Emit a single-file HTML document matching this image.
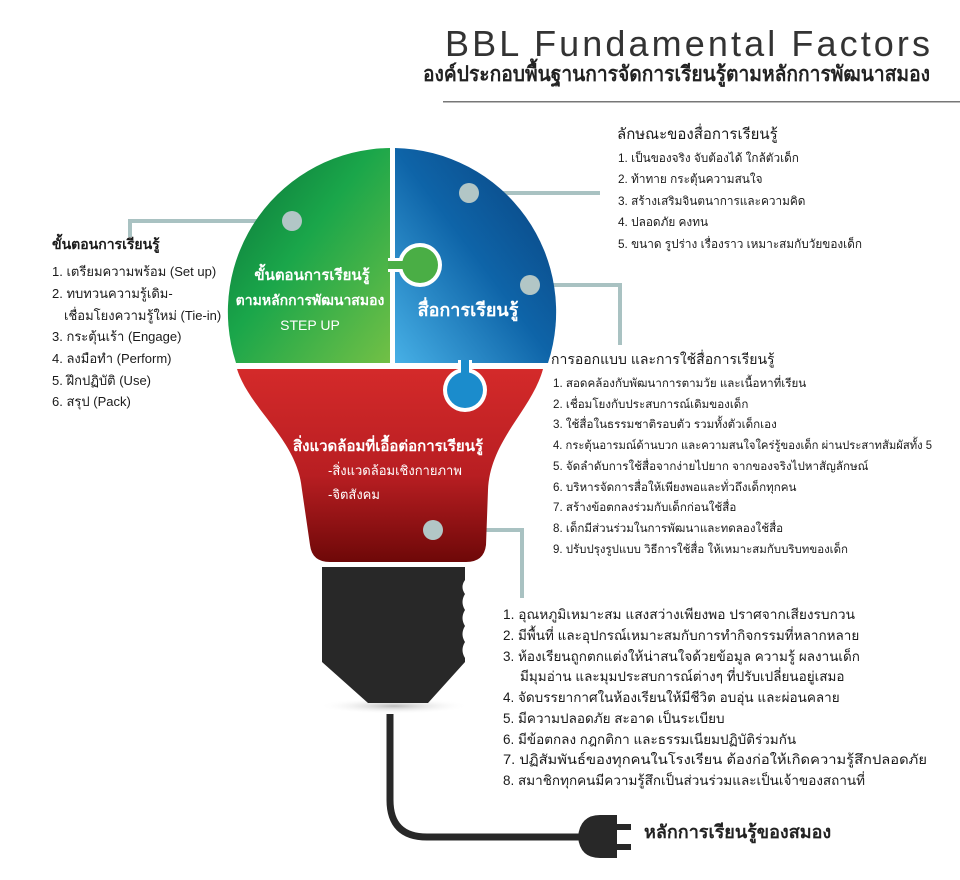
<!DOCTYPE html>
<html><head><meta charset="utf-8"><style>
html,body{margin:0;padding:0;background:#fff}
svg{display:block}
text{font-family:"Liberation Sans","Noto Sans CJK SC",sans-serif;fill:#1a1a1a}
.it{font-size:12.5px}
.hd{font-size:15px}
.w{fill:#fff;font-weight:bold}
.tr{font-size:11.8px}
.mr{font-size:11.6px}
.bl{font-size:13.5px}
.lf{font-size:13px}
</style></head><body>
<svg width="960" height="880" viewBox="0 0 960 880">
<defs>
<linearGradient id="gG" x1="0" y1="0" x2="1" y2="1"><stop offset="0" stop-color="#0a7038"/><stop offset="0.45" stop-color="#1aa64a"/><stop offset="1" stop-color="#72c046"/></linearGradient>
<linearGradient id="gB" x1="1" y1="0" x2="0" y2="1"><stop offset="0" stop-color="#0a3f7a"/><stop offset="0.5" stop-color="#0e64a8"/><stop offset="1" stop-color="#47b0e6"/></linearGradient>
<linearGradient id="gR" x1="0" y1="0" x2="0" y2="1"><stop offset="0" stop-color="#d42a2a"/><stop offset="0.55" stop-color="#b81e22"/><stop offset="1" stop-color="#6e0808"/></linearGradient>
<radialGradient id="sh" cx="0.5" cy="0.5" r="0.5"><stop offset="0" stop-color="#bbb"/><stop offset="1" stop-color="#fff" stop-opacity="0"/></radialGradient>
</defs>

<!-- title -->
<text x="445" y="56" textLength="485" lengthAdjust="spacing" style="font-size:36px;fill:#333">BBL Fundamental Factors</text>
<text x="423" y="81" textLength="507" lengthAdjust="spacingAndGlyphs" style="font-size:21px;font-weight:bold;fill:#222">องค์ประกอบพื้นฐานการจัดการเรียนรู้ตามหลักการพัฒนาสมอง</text>
<rect x="443" y="101" width="517" height="1.5" fill="#777"/>

<!-- connectors -->
<g stroke="#a9c2c2" stroke-width="4" fill="none">
<polyline points="292,221 130,221 130,237"/>
<polyline points="469,193 600,193"/>
<polyline points="530,285 620,285 620,345"/>
<polyline points="433,530 522,530 522,598"/>
</g>

<!-- bulb -->
<path d="M390,363 L236,363 A164,164 0 0 1 390,148 Z" fill="url(#gG)"/>
<path d="M395,148 A164,164 0 0 1 548,363 L395,363 Z" fill="url(#gB)"/>
<path d="M237,369 L543,369 C532,410 490,440 488,490 L486,545 Q484,562 466,562 L330,562 Q312,562 310,545 L302,490 C298,440 250,410 237,369 Z" fill="url(#gR)"/>
<!-- knobs -->
<rect x="388" y="258" width="16" height="14" fill="#fff"/>
<circle cx="420" cy="265" r="22" fill="#fff"/>
<rect x="388" y="261" width="18" height="8" fill="#4aae45"/>
<circle cx="420" cy="265" r="18" fill="#4aae45"/>
<rect x="458" y="360" width="14" height="16" fill="#fff"/>
<circle cx="465" cy="390" r="22" fill="#fff"/>
<rect x="461" y="360" width="8" height="18" fill="#1b8ccc"/>
<circle cx="465" cy="390" r="18" fill="#1b8ccc"/>
<!-- dots -->
<g fill="#b2c6c6">
<circle cx="292" cy="221" r="10"/><circle cx="469" cy="193" r="10"/><circle cx="530" cy="285" r="10"/><circle cx="433" cy="530" r="10"/>
</g>
<text class="w" x="312" y="280" text-anchor="middle" style="font-size:15px">ขั้นตอนการเรียนรู้</text>
<text class="w" x="310" y="305" text-anchor="middle" style="font-size:14px">ตามหลักการพัฒนาสมอง</text>
<text x="310" y="330" text-anchor="middle" style="font-size:14px;fill:#fff">STEP UP</text>
<text class="w" x="468" y="316" text-anchor="middle" style="font-size:18px">สื่อการเรียนรู้</text>
<text class="w" x="388" y="451" text-anchor="middle" style="font-size:15px">สิ่งแวดล้อมที่เอื้อต่อการเรียนรู้</text>
<text x="328" y="475" style="font-size:13px;fill:#fff">-สิ่งแวดล้อมเชิงกายภาพ</text>
<text x="328" y="499" style="font-size:13px;fill:#fff">-จิตสังคม</text>

<!-- socket -->
<ellipse cx="394" cy="706" rx="75" ry="8" fill="url(#sh)"/>
<path d="M322,567 L465,567 L465,580 Q460,587 465,594 Q460,602 465,610 Q460,618 465,626 Q460,634 465,642 Q460,650 465,658 L465,662 L428,703 L368,703 L322,662 Z" fill="#282828"/>
<!-- cord -->
<path d="M390,714 L390,800 Q390,837 427,837 L585,837" stroke="#282828" stroke-width="7" fill="none"/>
<path d="M578,837 Q580,815 600,815 L617,815 L617,858 L600,858 Q580,858 578,837 Z" fill="#282828"/>
<rect x="617" y="824" width="14" height="6" fill="#282828"/>
<rect x="617" y="844" width="14" height="6" fill="#282828"/>
<text x="644" y="838" style="font-size:18px;font-weight:bold;fill:#222">หลักการเรียนรู้ของสมอง</text>

<!-- left list -->
<text x="52" y="249" style="font-weight:bold;font-size:14px">ขั้นตอนการเรียนรู้</text>
<text class="lf" x="52" y="276">1. เตรียมความพร้อม (Set up)</text>
<text class="lf" x="52" y="298">2. ทบทวนความรู้เดิม-</text>
<text class="lf" x="64" y="320">เชื่อมโยงความรู้ใหม่ (Tie-in)</text>
<text class="lf" x="52" y="341">3. กระตุ้นเร้า (Engage)</text>
<text class="lf" x="52" y="363">4. ลงมือทำ (Perform)</text>
<text class="lf" x="52" y="385">5. ฝึกปฏิบัติ (Use)</text>
<text class="lf" x="52" y="406">6. สรุป (Pack)</text>

<!-- top right list -->
<text class="hd" x="617" y="139">ลักษณะของสื่อการเรียนรู้</text>
<text class="tr" x="618" y="162">1.  เป็นของจริง จับต้องได้ ใกล้ตัวเด็ก</text>
<text class="tr" x="618" y="183">2.  ท้าทาย กระตุ้นความสนใจ</text>
<text class="tr" x="618" y="205">3.  สร้างเสริมจินตนาการและความคิด</text>
<text class="tr" x="618" y="226">4.  ปลอดภัย คงทน</text>
<text class="tr" x="618" y="248" textLength="244" lengthAdjust="spacingAndGlyphs">5.  ขนาด รูปร่าง เรื่องราว เหมาะสมกับวัยของเด็ก</text>

<!-- middle right list -->
<text x="551" y="364" style="font-size:14px">การออกแบบ และการใช้สื่อการเรียนรู้</text>
<text class="mr" x="553" y="387">1.  สอดคล้องกับพัฒนาการตามวัย และเนื้อหาที่เรียน</text>
<text class="mr" x="553" y="408">2.  เชื่อมโยงกับประสบการณ์เดิมของเด็ก</text>
<text class="mr" x="553" y="428">3.  ใช้สื่อในธรรมชาติรอบตัว รวมทั้งตัวเด็กเอง</text>
<text class="mr" x="553" y="449" textLength="379" lengthAdjust="spacingAndGlyphs">4.  กระตุ้นอารมณ์ด้านบวก และความสนใจใคร่รู้ของเด็ก ผ่านประสาทสัมผัสทั้ง 5</text>
<text class="mr" x="553" y="470">5.  จัดลำดับการใช้สื่อจากง่ายไปยาก จากของจริงไปหาสัญลักษณ์</text>
<text class="mr" x="553" y="491">6.  บริหารจัดการสื่อให้เพียงพอและทั่วถึงเด็กทุกคน</text>
<text class="mr" x="553" y="511">7.  สร้างข้อตกลงร่วมกับเด็กก่อนใช้สื่อ</text>
<text class="mr" x="553" y="532">8.  เด็กมีส่วนร่วมในการพัฒนาและทดลองใช้สื่อ</text>
<text class="mr" x="553" y="553" textLength="295" lengthAdjust="spacingAndGlyphs">9.  ปรับปรุงรูปแบบ วิธีการใช้สื่อ ให้เหมาะสมกับบริบทของเด็ก</text>

<!-- bottom list -->
<text class="bl" x="503" y="619" textLength="352" lengthAdjust="spacingAndGlyphs">1.  อุณหภูมิเหมาะสม แสงสว่างเพียงพอ ปราศจากเสียงรบกวน</text>
<text class="bl" x="503" y="640">2.  มีพื้นที่ และอุปกรณ์เหมาะสมกับการทำกิจกรรมที่หลากหลาย</text>
<text class="bl" x="503" y="661">3.  ห้องเรียนถูกตกแต่งให้น่าสนใจด้วยข้อมูล ความรู้ ผลงานเด็ก</text>
<text class="bl" x="520" y="681">มีมุมอ่าน และมุมประสบการณ์ต่างๆ ที่ปรับเปลี่ยนอยู่เสมอ</text>
<text class="bl" x="503" y="702">4.  จัดบรรยากาศในห้องเรียนให้มีชีวิต อบอุ่น และผ่อนคลาย</text>
<text class="bl" x="503" y="723">5.  มีความปลอดภัย สะอาด เป็นระเบียบ</text>
<text class="bl" x="503" y="744">6.  มีข้อตกลง กฎกติกา และธรรมเนียมปฏิบัติร่วมกัน</text>
<text class="bl" x="503" y="764" textLength="424" lengthAdjust="spacingAndGlyphs">7.  ปฏิสัมพันธ์ของทุกคนในโรงเรียน ต้องก่อให้เกิดความรู้สึกปลอดภัย</text>
<text class="bl" x="503" y="785">8.  สมาชิกทุกคนมีความรู้สึกเป็นส่วนร่วมและเป็นเจ้าของสถานที่</text>
</svg>
</body></html>
